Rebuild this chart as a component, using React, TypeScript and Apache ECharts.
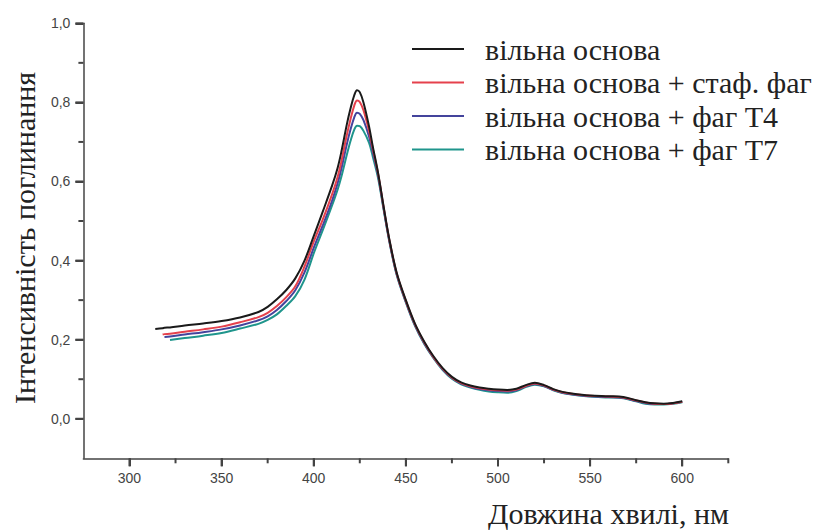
import React, { useEffect, useRef } from "react";
import * as echarts from "echarts";

const wavelengths = [314, 318, 319, 322, 330, 340, 350, 360, 370, 375, 380, 385, 390, 395, 400, 405, 410, 413, 415, 418, 420, 422, 423.5, 425, 427, 430, 432, 435, 438, 441, 445, 450, 455, 460, 465, 470, 475, 480, 485, 490, 495, 500, 505, 510, 515, 520, 525, 530, 535, 540, 550, 560, 568, 575, 580, 585, 590, 595, 600];

const freeBase = [0.227, 0.229, 0.230, 0.231, 0.236, 0.241, 0.247, 0.256, 0.270, 0.283, 0.302, 0.325, 0.355, 0.400, 0.462, 0.525, 0.59, 0.635, 0.675, 0.745, 0.785, 0.818, 0.831, 0.826, 0.80, 0.74, 0.69, 0.62, 0.535, 0.455, 0.37, 0.30, 0.24, 0.195, 0.158, 0.128, 0.106, 0.092, 0.084, 0.079, 0.076, 0.074, 0.073, 0.076, 0.085, 0.091, 0.085, 0.075, 0.068, 0.064, 0.059, 0.057, 0.055, 0.047, 0.042, 0.039, 0.038, 0.040, 0.044];

const staphPhage = [null, 0.213, 0.214, 0.215, 0.220, 0.226, 0.233, 0.244, 0.257, 0.268, 0.285, 0.307, 0.335, 0.385, 0.448, 0.505, 0.568, 0.612, 0.65, 0.718, 0.758, 0.792, 0.805, 0.801, 0.780, 0.728, 0.684, 0.618, 0.533, 0.453, 0.368, 0.298, 0.238, 0.193, 0.156, 0.126, 0.104, 0.090, 0.082, 0.077, 0.074, 0.072, 0.071, 0.074, 0.083, 0.089, 0.084, 0.074, 0.067, 0.063, 0.058, 0.056, 0.054, 0.046, 0.041, 0.038, 0.037, 0.039, 0.043];

const phageT4 = [null, null, 0.207, 0.208, 0.213, 0.219, 0.226, 0.236, 0.249, 0.259, 0.275, 0.297, 0.325, 0.370, 0.432, 0.490, 0.552, 0.596, 0.632, 0.695, 0.732, 0.762, 0.774, 0.771, 0.755, 0.714, 0.675, 0.614, 0.530, 0.451, 0.366, 0.296, 0.236, 0.191, 0.155, 0.125, 0.103, 0.089, 0.081, 0.075, 0.072, 0.070, 0.069, 0.072, 0.082, 0.088, 0.083, 0.073, 0.066, 0.062, 0.057, 0.055, 0.053, 0.045, 0.040, 0.037, 0.037, 0.039, 0.043];

const phageT7 = [null, null, null, 0.199, 0.204, 0.210, 0.217, 0.228, 0.240, 0.250, 0.264, 0.285, 0.310, 0.352, 0.418, 0.478, 0.540, 0.580, 0.612, 0.668, 0.703, 0.731, 0.741, 0.740, 0.728, 0.698, 0.664, 0.607, 0.527, 0.449, 0.364, 0.294, 0.234, 0.189, 0.153, 0.123, 0.101, 0.087, 0.079, 0.073, 0.069, 0.067, 0.066, 0.070, 0.080, 0.086, 0.082, 0.072, 0.065, 0.061, 0.056, 0.054, 0.052, 0.044, 0.038, 0.036, 0.036, 0.038, 0.042];

const seriesNames = [
  "вільна основа",
  "вільна основа + стаф. фаг",
  "вільна основа + фаг T4",
  "вільна основа + фаг T7",
];
const seriesColors = ["#1a1a1a", "#e5414c", "#44449c", "#1f958c"];

const xMajorTicks = [300, 350, 400, 450, 500, 550, 600];
const xMinorTicks = [325, 375, 425, 475, 525, 575, 625];
const yMajorTicks = [0, 0.2, 0.4, 0.6, 0.8, 1.0];
const yMinorTicks = [0.1, 0.3, 0.5, 0.7, 0.9];

const yTitle = "Інтенсивність поглинання";
const xTitle = "Довжина хвилі, нм";

const SERIF = "Liberation Serif";

const L = 83.4, R = 728.3, T = 23.3, B = 458.3, W = 823, H = 531;
const X_MIN = 275, X_MAX = 625, Y_MIN = -0.1, Y_MAX = 1.0;
const MAJOR_LEN = 8, MINOR_LEN = 5, TICK_W = 2;

export default function App() {
  const ref = useRef<HTMLDivElement>(null);
  useEffect(() => {
    document.body.style.margin = "0";
    if (!ref.current) return;
    const chart = echarts.init(ref.current, undefined, { renderer: "svg" });
    const allData = [freeBase, staphPhage, phageT4, phageT7];
    const mk = (i: number) => ({
      name: seriesNames[i],
      type: "line",
      symbol: "none",
      smooth: 0.35,
      lineStyle: { color: seriesColors[i], width: 2 },
      itemStyle: { color: seriesColors[i] },
      data: wavelengths.map((w, k) => [w, allData[i][k]]).filter((p) => p[1] !== null),
    });
    const axisColor = "#444";
    const labelStyle = { color: "#444", fontFamily: "Liberation Sans", fontSize: 14 };
    const titles = [
      {
        type: "text",
        x: 24,
        y: 238,
        rotation: Math.PI / 2,
        style: {
          text: yTitle,
          fontFamily: SERIF,
          fontSize: 30,
          fill: "#222",
          textAlign: "center",
          textVerticalAlign: "middle",
        },
      },
      {
        type: "text",
        x: 729,
        y: 513,
        style: {
          text: xTitle,
          fontFamily: SERIF,
          fontSize: 30,
          fill: "#222",
          textAlign: "right",
          textVerticalAlign: "middle",
        },
      },
    ];
    chart.setOption({
      animation: false,
      backgroundColor: "#ffffff",
      grid: { left: L, right: W - R, top: T, bottom: H - B, containLabel: false },
      legend: {
        data: seriesNames.map((n) => ({ name: n, icon: "rect" })),
        orient: "vertical",
        left: 412,
        top: 34,
        padding: 0,
        itemGap: 3.5,
        itemWidth: 52,
        itemHeight: 2,
        textStyle: {
          fontFamily: SERIF,
          fontSize: 30,
          color: "#222",
          padding: [0, 0, 0, 16],
          lineHeight: 28,
        },
      },
      xAxis: {
        type: "value",
        min: X_MIN,
        max: X_MAX,
        position: "bottom",
        axisLine: { show: true, onZero: false, lineStyle: { color: axisColor, width: 1.5 } },
        axisTick: { show: true, customValues: xMajorTicks, length: MAJOR_LEN, lineStyle: { color: axisColor, width: TICK_W } },
        axisLabel: { show: true, customValues: xMajorTicks, margin: 13, ...labelStyle, formatter: (v: number) => String(v) },
        splitLine: { show: false },
      },
      yAxis: {
        type: "value",
        min: Y_MIN,
        max: Y_MAX,
        position: "left",
        axisLine: { show: true, onZero: false, lineStyle: { color: axisColor, width: 1.5 } },
        axisTick: { show: true, customValues: yMajorTicks, length: MAJOR_LEN, lineStyle: { color: axisColor, width: TICK_W } },
        axisLabel: {
          show: true,
          customValues: yMajorTicks,
          margin: 13,
          ...labelStyle,
          formatter: (v: number) => v.toFixed(1).replace(".", ","),
        },
        splitLine: { show: false },
      },
      graphic: titles,
      series: [mk(3), mk(2), mk(1), mk(0)],
    });

    // tick marks as small filled rectangles, positioned through the chart's own scales
    const ticks: any[] = [];
    const addX = (v: number, len: number) => {
      const p = chart.convertToPixel({ gridIndex: 0 }, [v, Y_MIN]) as number[];
      ticks.push({
        type: "rect",
        shape: { x: p[0] - TICK_W / 2, y: p[1], width: TICK_W, height: len },
        style: { fill: axisColor },
        z: 100,
      });
    };
    const addY = (v: number, len: number) => {
      const p = chart.convertToPixel({ gridIndex: 0 }, [X_MIN, v]) as number[];
      ticks.push({
        type: "rect",
        shape: { x: p[0] - len, y: p[1] - TICK_W / 2, width: len, height: TICK_W },
        style: { fill: axisColor },
        z: 100,
      });
    };
    xMajorTicks.forEach((v) => addX(v, MAJOR_LEN));
    xMinorTicks.forEach((v) => addX(v, MINOR_LEN));
    yMajorTicks.forEach((v) => addY(v, MAJOR_LEN));
    yMinorTicks.forEach((v) => addY(v, MINOR_LEN));
    chart.setOption({ graphic: [...titles, ...ticks] });

    return () => chart.dispose();
  }, []);
  return <div ref={ref} style={{ width: W, height: H }} />;
}
